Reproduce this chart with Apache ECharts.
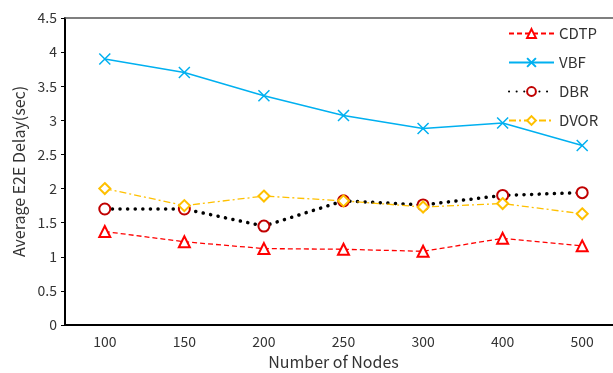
<!DOCTYPE html>
<html><head><meta charset="utf-8">
<script src="https://cdn.jsdelivr.net/npm/echarts@6/dist/echarts.min.js"></script>
<style>html,body{margin:0;padding:0;background:#fff;overflow:hidden}#c{width:630px;height:373px;background:#fff}</style>
</head><body><div id="c"></div>
<script>
var categories = ['100','150','200','250','300','400','500'];
var cdtp = [1.37, 1.22, 1.12, 1.11, 1.08, 1.27, 1.16];
var vbf  = [3.90, 3.70, 3.36, 3.07, 2.88, 2.96, 2.63];
var dbr  = [1.70, 1.70, 1.45, 1.82, 1.76, 1.90, 1.94];
var dvor = [2.00, 1.75, 1.89, 1.82, 1.73, 1.78, 1.63];

var FONT = '"Noto Sans CJK SC", "Noto Sans", sans-serif';
var chart = echarts.init(document.getElementById('c'), null, {renderer:'canvas'});
var xPath = 'path://M0,0L10,10M10,0L0,10';
chart.setOption({
  animation:false,
  textStyle:{fontFamily:FONT},
  grid:{left:65, top:18, width:557, height:307, outerBoundsMode:'none', containLabel:false, show:false},
  legend:{
    orient:'vertical', left:503, top:21, itemGap:14, itemWidth:45, itemHeight:11,
    textStyle:{fontSize:15, color:'#333', fontFamily:FONT},
    data:['CDTP','VBF','DBR','DVOR']
  },
  xAxis:[{
    type:'category', data:categories, boundaryGap:true,
    name:'Number of Nodes', nameLocation:'middle', nameGap:29,
    nameTextStyle:{fontSize:16, color:'#333', padding:[0,0,0,-20]},
    axisLine:{lineStyle:{color:'#000', width:2}},
    axisTick:{inside:true, length:5, lineStyle:{color:'#000'}},
    axisLabel:{fontSize:14, color:'#333', margin:10},
    splitLine:{show:false}
  },{
    type:'category', data:categories, position:'top',
    axisLine:{show:true, onZero:false, lineStyle:{color:'#555', width:1.5}},
    axisTick:{show:false}, axisLabel:{show:false}, splitLine:{show:false}
  }],
  yAxis:{
    type:'value', min:0, max:4.5, interval:0.5,
    name:'Average E2E Delay(sec)', nameLocation:'middle', nameGap:38,
    nameTextStyle:{fontSize:16, color:'#333'},
    axisLine:{show:true, lineStyle:{color:'#000', width:2}},
    axisTick:{show:true, length:4, lineStyle:{color:'#000'}},
    splitLine:{show:false},
    axisLabel:{fontSize:14, color:'#333', margin:8}
  },
  series:[
    {name:'CDTP', type:'line', data:cdtp, symbol:'emptyTriangle', symbolSize:11,
     lineStyle:{color:'#ff0000', width:1.3, type:[5,3]},
     itemStyle:{color:'#ff0000', borderColor:'#ff0000', borderWidth:1.5}},
    {name:'VBF', type:'line', data:vbf, symbol:xPath, symbolSize:11,
     lineStyle:{color:'#00b0f0', width:1.5},
     itemStyle:{color:'#00b0f0', borderColor:'#00b0f0', borderWidth:1.5}},
    {name:'DBR', type:'line', data:dbr, symbol:'emptyCircle', symbolSize:11, z:3,
     lineStyle:{color:'#000', width:3.5, type:[0.1,7.5], cap:'round'},
     itemStyle:{color:'#c00000', borderColor:'#c00000', borderWidth:1.8}},
    {name:'DVOR', type:'line', data:dvor, symbol:'emptyDiamond', symbolSize:11,
     lineStyle:{color:'#ffc000', width:1.3, type:[7,3,2,3]},
     itemStyle:{color:'#ffc000', borderColor:'#ffc000', borderWidth:1.5}}
  ]
});
</script></body></html>
